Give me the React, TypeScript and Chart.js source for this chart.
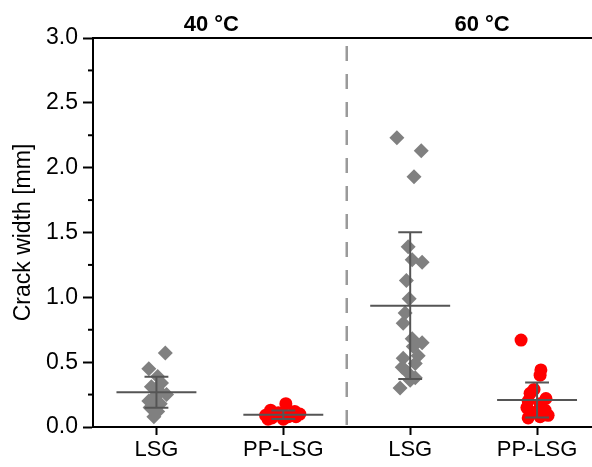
import React, { useEffect, useRef } from 'react';
import { Chart, registerables } from 'chart.js';

Chart.register(...registerables);

// ---- data ----
const categories = ['LSG', 'PP-LSG', 'LSG', 'PP-LSG'];
const groupTitles = ['40 °C', '60 °C'];
const yTickValues = [0, 0.5, 1, 1.5, 2, 2.5, 3];
const yAxisTitle = 'Crack width [mm]';

// 40 °C, LSG
const lsg40Values = [0.57, 0.45, 0.39, 0.34, 0.31, 0.27, 0.25, 0.22, 0.2, 0.18, 0.15, 0.12, 0.08];
const lsg40Jitter = [0.07, -0.06, 0.01, 0.04, -0.04, 0.03, 0.08, -0.03, -0.06, 0.03, -0.05, 0.01, -0.02];
// 40 °C, PP-LSG
const pp40Values = [0.18, 0.13, 0.12, 0.11, 0.1, 0.1, 0.09, 0.08, 0.08, 0.07, 0.06, 0.06, 0.09];
const pp40Jitter = [0.02, -0.1, 0.09, -0.04, 0.13, 0.0, -0.14, 0.04, 0.1, -0.09, 0.0, -0.12, 0.06];
// 60 °C, LSG
const lsg60Values = [2.23, 2.13, 1.93, 1.39, 1.29, 1.27, 1.13, 0.99, 0.88, 0.8, 0.68, 0.65, 0.62, 0.55, 0.53, 0.49, 0.46, 0.42, 0.38, 0.36, 0.3];
const lsg60Jitter = [-0.105, 0.087, 0.03, -0.016, 0.016, 0.094, -0.03, -0.008, -0.04, -0.055, 0.016, 0.094, 0.024, 0.063, -0.055, 0.04, -0.063, -0.02, 0.04, 0.0, -0.08];
// 60 °C, PP-LSG
const pp60Values = [0.67, 0.44, 0.4, 0.29, 0.26, 0.22, 0.2, 0.18, 0.15, 0.13, 0.12, 0.11, 0.09, 0.08, 0.07];
const pp60Jitter = [-0.126, 0.03, 0.024, -0.024, -0.055, 0.07, -0.07, 0.024, -0.08, 0.063, 0.0, -0.04, 0.087, 0.024, -0.07];

// mean and standard deviation per category
const groupMeans = [0.268, 0.095, 0.936, 0.208];
const groupSDs = [0.12, 0.033, 0.565, 0.135];

const FONT = "'Liberation Sans', Arial, Helvetica, sans-serif";
const GRAY = '#808080';
const RED = '#ff0000';
const STAT = '#555555';

function toPoints(pos: number, values: number[], jitter: number[]) {
  return values.map((v, i) => ({ x: pos + jitter[i], y: v }));
}

const overlayPlugin = {
  id: 'overlay',
  beforeDatasetsDraw(chart: any) {
    const { ctx, chartArea, scales } = chart;
    const x = scales.x;
    ctx.save();
    // dashed separator between temperatures
    const xs = x.getPixelForValue(2.5);
    ctx.strokeStyle = '#9a9a9a';
    ctx.lineWidth = 2.5;
    ctx.setLineDash([15, 13]);
    ctx.beginPath();
    ctx.moveTo(xs, chartArea.top + 8);
    ctx.lineTo(xs, chartArea.bottom);
    ctx.stroke();
    ctx.setLineDash([]);
    // top frame line
    ctx.strokeStyle = '#000';
    ctx.lineWidth = 2;
    ctx.beginPath();
    ctx.moveTo(chartArea.left - 1, chartArea.top);
    ctx.lineTo(chart.width, chartArea.top);
    ctx.stroke();
    ctx.restore();
  },
  afterDatasetsDraw(chart: any) {
    const { ctx, scales } = chart;
    const x = scales.x;
    const y = scales.y;
    ctx.save();
    ctx.strokeStyle = STAT;
    ctx.lineWidth = 2;
    groupMeans.forEach((m, i) => {
      const c = i + 1;
      const sd = groupSDs[i];
      const xc = x.getPixelForValue(c);
      const xl = x.getPixelForValue(c - 0.315);
      const xr = x.getPixelForValue(c + 0.315);
      const cl = x.getPixelForValue(c - 0.094);
      const cr = x.getPixelForValue(c + 0.094);
      const ym = y.getPixelForValue(m);
      const yt = y.getPixelForValue(m + sd);
      const yb = y.getPixelForValue(m - sd);
      ctx.beginPath();
      ctx.moveTo(xl, ym);
      ctx.lineTo(xr, ym);
      ctx.moveTo(xc, yt);
      ctx.lineTo(xc, yb);
      ctx.moveTo(cl, yt);
      ctx.lineTo(cr, yt);
      ctx.moveTo(cl, yb);
      ctx.lineTo(cr, yb);
      ctx.stroke();
    });
    ctx.restore();
  },
  afterDraw(chart: any) {
    const { ctx, chartArea, scales } = chart;
    const x = scales.x;
    const y = scales.y;
    ctx.save();
    // minor y ticks
    ctx.strokeStyle = '#000';
    ctx.lineWidth = 2;
    for (let k = 0; k < yTickValues.length - 1; k++) {
      const v = (yTickValues[k] + yTickValues[k + 1]) / 2;
      const py = y.getPixelForValue(v);
      ctx.beginPath();
      ctx.moveTo(chartArea.left - 5, py);
      ctx.lineTo(chartArea.left, py);
      ctx.stroke();
    }
    // group titles
    ctx.fillStyle = '#000';
    ctx.font = `bold 22px ${FONT}`;
    ctx.textAlign = 'center';
    ctx.textBaseline = 'alphabetic';
    ctx.fillText(groupTitles[0], x.getPixelForValue(1.433), 31);
    ctx.fillText(groupTitles[1], x.getPixelForValue(3.567), 31);
    // y axis title
    ctx.font = `23px ${FONT}`;
    ctx.translate(24, (chartArea.top + chartArea.bottom) / 2);
    ctx.rotate(-Math.PI / 2);
    ctx.textBaseline = 'middle';
    ctx.fillText(yAxisTitle, 0, 0);
    ctx.restore();
  },
};

export default function App() {
  const canvasRef = useRef<HTMLCanvasElement | null>(null);

  useEffect(() => {
    document.body.style.margin = '0';
    const canvas = canvasRef.current;
    if (!canvas) return;
    const chart = new Chart(canvas, {
      type: 'scatter',
      data: {
        datasets: [
          {
            label: '40 °C LSG',
            data: toPoints(1, lsg40Values, lsg40Jitter),
            pointStyle: 'rectRot',
            pointRadius: 7.5,
            pointBackgroundColor: GRAY,
            pointBorderWidth: 0,
            backgroundColor: GRAY,
            borderColor: GRAY,
          },
          {
            label: '40 °C PP-LSG',
            data: toPoints(2, pp40Values, pp40Jitter),
            pointStyle: 'circle',
            pointRadius: 6.5,
            pointBackgroundColor: RED,
            pointBorderWidth: 0,
            backgroundColor: RED,
            borderColor: RED,
          },
          {
            label: '60 °C LSG',
            data: toPoints(3, lsg60Values, lsg60Jitter),
            pointStyle: 'rectRot',
            pointRadius: 7.5,
            pointBackgroundColor: GRAY,
            pointBorderWidth: 0,
            backgroundColor: GRAY,
            borderColor: GRAY,
          },
          {
            label: '60 °C PP-LSG',
            data: toPoints(4, pp60Values, pp60Jitter),
            pointStyle: 'circle',
            pointRadius: 6.5,
            pointBackgroundColor: RED,
            pointBorderWidth: 0,
            backgroundColor: RED,
            borderColor: RED,
          },
        ],
      },
      options: {
        responsive: true,
        maintainAspectRatio: false,
        animation: false,
        events: [],
        clip: false as any,
        layout: { autoPadding: false, padding: { top: 38, right: 0, left: 0, bottom: 0 } },
        plugins: {
          legend: { display: false },
          tooltip: { enabled: false },
          title: { display: false },
        },
        scales: {
          x: {
            type: 'linear',
            min: 0.5,
            max: 4.433,
            afterBuildTicks: (scale: any) => {
              scale.ticks = categories.map((_, i) => ({ value: i + 1 }));
            },
            afterFit: (scale: any) => {
              scale.height = 40;
              scale.paddingLeft = 0;
              scale.paddingRight = 0;
            },
            ticks: {
              autoSkip: false,
              maxRotation: 0,
              padding: 2,
              color: '#000',
              font: { family: FONT, size: 22 },
              callback: (v: any) => categories[Math.round(Number(v)) - 1] ?? '',
            },
            grid: {
              drawOnChartArea: false,
              drawTicks: true,
              tickLength: 8,
              tickWidth: 2,
              tickColor: '#000',
            },
            border: { display: true, color: '#000', width: 2 },
          },
          y: {
            type: 'linear',
            min: 0,
            max: 3,
            afterBuildTicks: (scale: any) => {
              scale.ticks = yTickValues.map((v) => ({ value: v }));
            },
            afterFit: (scale: any) => {
              scale.width = 93;
              scale.paddingTop = 0;
              scale.paddingBottom = 0;
            },
            ticks: {
              padding: 5,
              color: '#000',
              font: { family: FONT, size: 23 },
              callback: (v: any) => Number(v).toFixed(1),
            },
            grid: {
              drawOnChartArea: false,
              drawTicks: true,
              tickLength: 10,
              tickWidth: 2,
              tickColor: '#000',
            },
            border: { display: true, color: '#000', width: 2 },
          },
        },
      },
      plugins: [overlayPlugin],
    });
    return () => chart.destroy();
  }, []);

  return (
    <div style={{ width: 592, height: 467, position: 'relative' }}>
      <canvas ref={canvasRef} style={{ display: 'block' }} />
    </div>
  );
}
